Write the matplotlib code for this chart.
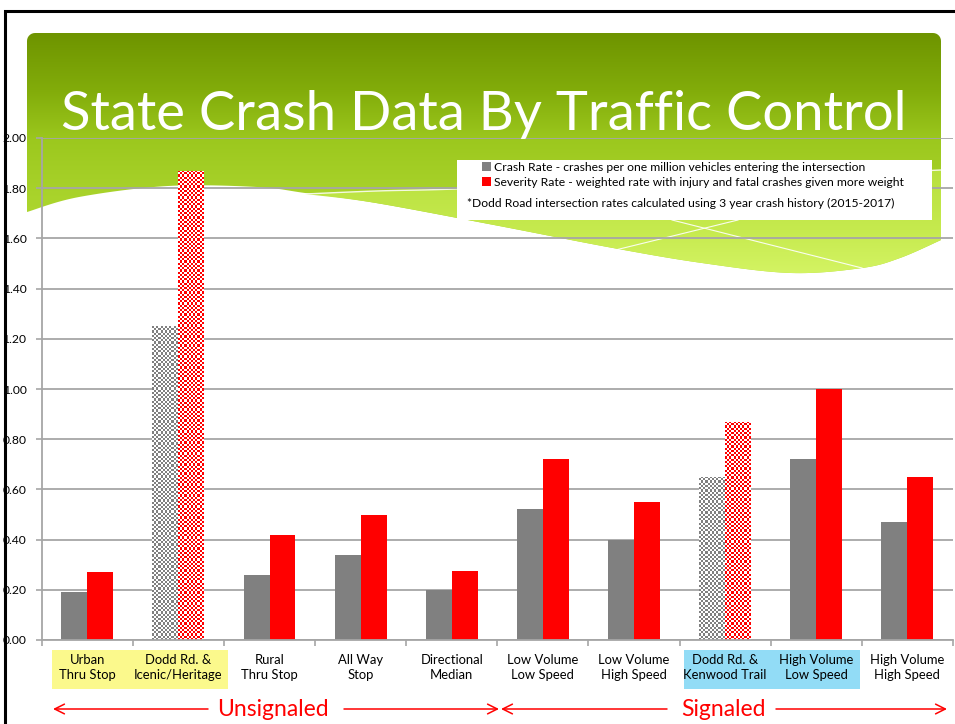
import numpy as np
import matplotlib
matplotlib.use("Agg")
import matplotlib.pyplot as plt
from matplotlib.patches import Rectangle, Polygon
from matplotlib.ticker import FormatStrFormatter, FixedLocator
from matplotlib.colors import to_rgb

plt.rcParams['font.family'] = ['Lato', 'DejaVu Sans']

# ---------------- data ----------------
categories = ["Urban\nThru Stop", "Dodd Rd. &\nIcenic/Heritage", "Rural\nThru Stop",
              "All Way\nStop", "Directional\nMedian", "Low Volume\nLow Speed",
              "Low Volume\nHigh Speed", "Dodd Rd. &\nKenwood Trail",
              "High Volume\nLow Speed", "High Volume\nHigh Speed"]
crash_rate = [0.19, 1.25, 0.26, 0.34, 0.20, 0.52, 0.40, 0.65, 0.72, 0.47]
severity_rate = [0.27, 1.87, 0.42, 0.50, 0.275, 0.72, 0.55, 0.87, 1.00, 0.65]
dodd_idx = [1, 7]
yticks = [0.0, 0.2, 0.4, 0.6, 0.8, 1.0, 1.2, 1.4, 1.6, 1.8, 2.0]
title = "State Crash Data By Traffic Control"
legend_labels = ["Crash Rate - crashes per one million vehicles entering the intersection",
                 "Severity Rate - weighted rate with injury and fatal crashes given more weight"]
note = "*Dodd Road intersection rates calculated using 3 year crash history (2015-2017)"
group_labels = ["Unsignaled", "Signaled"]

GRAY = '#808080'
RED = '#ff0000'

W, H = 955, 724
fig = plt.figure(figsize=(W / 100, H / 100), dpi=100)
fig.patch.set_facecolor('white')

# ---------------- background (pixel coordinates) ----------------
bg = fig.add_axes([0, 0, 1, 1], zorder=0)
bg.set_xlim(0, W)
bg.set_ylim(H, 0)
bg.axis('off')


def catmull(pts, n=16):
    pts = np.asarray(pts, float)
    p = np.vstack([pts[0], pts, pts[-1]])
    out = []
    for i in range(1, len(p) - 2):
        p0, p1, p2, p3 = p[i - 1], p[i], p[i + 1], p[i + 2]
        for t in np.linspace(0, 1, n, endpoint=False):
            t2, t3 = t * t, t * t * t
            out.append(0.5 * ((2 * p1) + (-p0 + p2) * t + (2 * p0 - 5 * p1 + 4 * p2 - p3) * t2
                              + (-p0 + 3 * p1 - 3 * p2 + p3) * t3))
    out.append(pts[-1])
    return np.array(out)


def vgrad(stops, y0, y1, n=300):
    ys = np.linspace(y0, y1, n)
    sy = [s[0] for s in stops]
    cols = np.array([to_rgb(s[1]) for s in stops])
    img = np.stack([np.interp(ys, sy, cols[:, k]) for k in range(3)], axis=-1)
    return img[:, None, :]


L, R, T = 27, 941, 33
rad = 8
lower = catmull([(941, 240), (900, 258), (862, 268), (791, 273), (702, 263), (613, 248),
                 (494, 225), (376, 203), (305, 193), (257, 187), (168, 186), (79, 197), (27, 212)])
corner_l = [(L + rad - rad * np.cos(a), T + rad - rad * np.sin(a)) for a in np.linspace(0, np.pi / 2, 8)]
corner_r = [(R - rad + rad * np.sin(a), T + rad - rad * np.cos(a)) for a in np.linspace(0, np.pi / 2, 8)]
banner_pts = np.vstack([[(L, 212)], corner_l, corner_r, [(R, 240)], lower])
banner = Polygon(banner_pts, closed=True, facecolor='none', edgecolor='none')
bg.add_patch(banner)
im = bg.imshow(vgrad([(33, '#6e9400'), (90, '#82ac0a'), (140, '#9cc81e'), (200, '#aad42c'), (275, '#b6de38')], 33, 275),
               extent=(L, R, 275, 33), aspect='auto', interpolation='bilinear', zorder=1)
im.set_clip_path(banner)

lobe_top = catmull([(305, 194), (376, 191), (456, 189), (600, 183), (800, 176), (941, 170)])
lobe_low = catmull([(941, 240), (900, 258), (862, 268), (791, 273), (702, 263), (613, 248),
                    (494, 225), (376, 203), (305, 194)])
lobe = Polygon(np.vstack([lobe_top, lobe_low]), closed=True, facecolor='none', edgecolor='none')
bg.add_patch(lobe)
im2 = bg.imshow(vgrad([(170, '#b8e03e'), (230, '#c6ea4e'), (275, '#d4f464')], 170, 275),
                extent=(300, R, 275, 170), aspect='auto', interpolation='bilinear', zorder=2)
im2.set_clip_path(lobe)
bg.plot(lobe_top[:, 0], lobe_top[:, 1], color='white', lw=1.0, alpha=0.85, zorder=3)
bg.plot([595, 738], [255, 220], color='white', lw=0.8, alpha=0.9, zorder=3)
bg.plot([672, 862], [220, 268], color='white', lw=0.8, alpha=0.9, zorder=3)

# slide frame
bg.plot([4.5, 4.5, W], [H, 11, 11], color='black', lw=2.2, solid_joinstyle='miter', zorder=4)

# highlight boxes behind category labels
bg.add_patch(Rectangle((52, 650), 176, 39, facecolor='#fbf98c', edgecolor='none', zorder=1))
bg.add_patch(Rectangle((684, 650), 176, 39, facecolor='#92dcf6', edgecolor='none', zorder=1))

# Unsignaled / Signaled arrows
ay = 709
arw = dict(arrowstyle='->,head_length=0.7,head_width=0.35', color=RED, lw=1.1, shrinkA=0, shrinkB=0)
for (x_from, x_to) in [(208, 53), (344, 499), (667, 501), (776, 947)]:
    bg.annotate('', xy=(x_to, ay), xytext=(x_from, ay), arrowprops=arw, zorder=5)
bg.text(273, ay, group_labels[0], color=RED, fontsize=16.5, ha='center', va='center', zorder=5)
bg.text(723, ay, group_labels[1], color=RED, fontsize=16.5, ha='center', va='center', zorder=5)

# ---------------- main chart ----------------
ax = fig.add_axes([41.7 / W, (H - 640) / H, (953 - 41.7) / W, (640 - 138) / H], zorder=1)
ax.set_facecolor('none')
x = np.arange(len(categories))
bw = 0.285
gray_bars = ax.bar(x - bw / 2, crash_rate, bw, color=GRAY, edgecolor='none', zorder=2, label=legend_labels[0])
red_bars = ax.bar(x + bw / 2, severity_rate, bw, color=RED, edgecolor='none', zorder=2, label=legend_labels[1])
ax.set_xlim(-0.5, len(categories) - 0.5)
ax.set_ylim(0, 2.0)


def checker(bar, color, cell=2.2):
    x0, y0, w, h = bar.get_x(), bar.get_y(), bar.get_width(), bar.get_height()
    p0 = ax.transData.transform((x0, y0))
    p1 = ax.transData.transform((x0 + w, y0 + h))
    nx = max(1, int(round((p1[0] - p0[0]) / cell)))
    ny = max(1, int(round((p1[1] - p0[1]) / cell)))
    mask = np.add.outer(np.arange(ny), np.arange(nx)) % 2
    c = np.array(to_rgb(color))
    img = np.where(mask[..., None] == 0, c, np.array([1.0, 1.0, 1.0]))
    im = ax.imshow(img, extent=(x0, x0 + w, y0, y0 + h), origin='lower', aspect='auto',
                   interpolation='nearest', zorder=2.5)
    im.set_clip_path(bar)


for i in dodd_idx:
    checker(gray_bars[i], GRAY)
    checker(red_bars[i], RED)
ax.set_xlim(-0.5, len(categories) - 0.5)
ax.set_ylim(0, 2.0)
ax.set_aspect('auto')

ax.set_yticks(yticks)
ax.yaxis.set_major_formatter(FormatStrFormatter('%.2f'))
ax.tick_params(axis='y', length=4, color='#a6a6a6', width=1.2, labelsize=8.7, pad=7, labelcolor='black')
ax.xaxis.set_major_locator(FixedLocator(np.arange(-0.5, len(categories), 1.0)))
ax.xaxis.set_minor_locator(FixedLocator(x))
ax.set_xticklabels([], minor=False)
ax.set_xticklabels(categories, minor=True)
ax.tick_params(axis='x', which='major', length=4, color='#a6a6a6', width=1.2)
ax.tick_params(axis='x', which='minor', length=0, labelsize=9.4, pad=10)
for t in ax.get_xticklabels(minor=True):
    t.set_linespacing(1.3)
ax.grid(axis='y', color='#a6a6a6', lw=1.3)
ax.set_axisbelow(True)
for s in ['top', 'right']:
    ax.spines[s].set_visible(False)
for s in ['left', 'bottom']:
    ax.spines[s].set_color('#a6a6a6')
    ax.spines[s].set_linewidth(1.3)

# ---------------- legend box ----------------
fig.patches.append(Rectangle((457 / W, 1 - 220 / H), (932 - 457) / W, 60 / H, transform=fig.transFigure,
                             facecolor='white', edgecolor='none', zorder=2))
leg = fig.legend(handles=[gray_bars, red_bars], labels=legend_labels, loc='upper left',
                 bbox_to_anchor=(482 / W, 1 - 162 / H), frameon=False, fontsize=8.75,
                 handlelength=0.7, handleheight=0.7, handletextpad=0.25, labelspacing=0.3,
                 borderpad=0, borderaxespad=0)
leg.set_zorder(5)
fig.text(467 / W, 1 - 203 / H, note, fontsize=8.7, ha='left', va='center', zorder=5)

# ---------------- title ----------------
tt = fig.text(484 / W, 1 - 130 / H, title, color='white', fontsize=37, fontweight='normal',
              ha='center', va='baseline', zorder=4)
fig.canvas.draw()
wpx = tt.get_window_extent().width
tt.set_fontsize(37 * 846 / wpx)

fig.savefig('out.png', dpi=100, facecolor='white')
